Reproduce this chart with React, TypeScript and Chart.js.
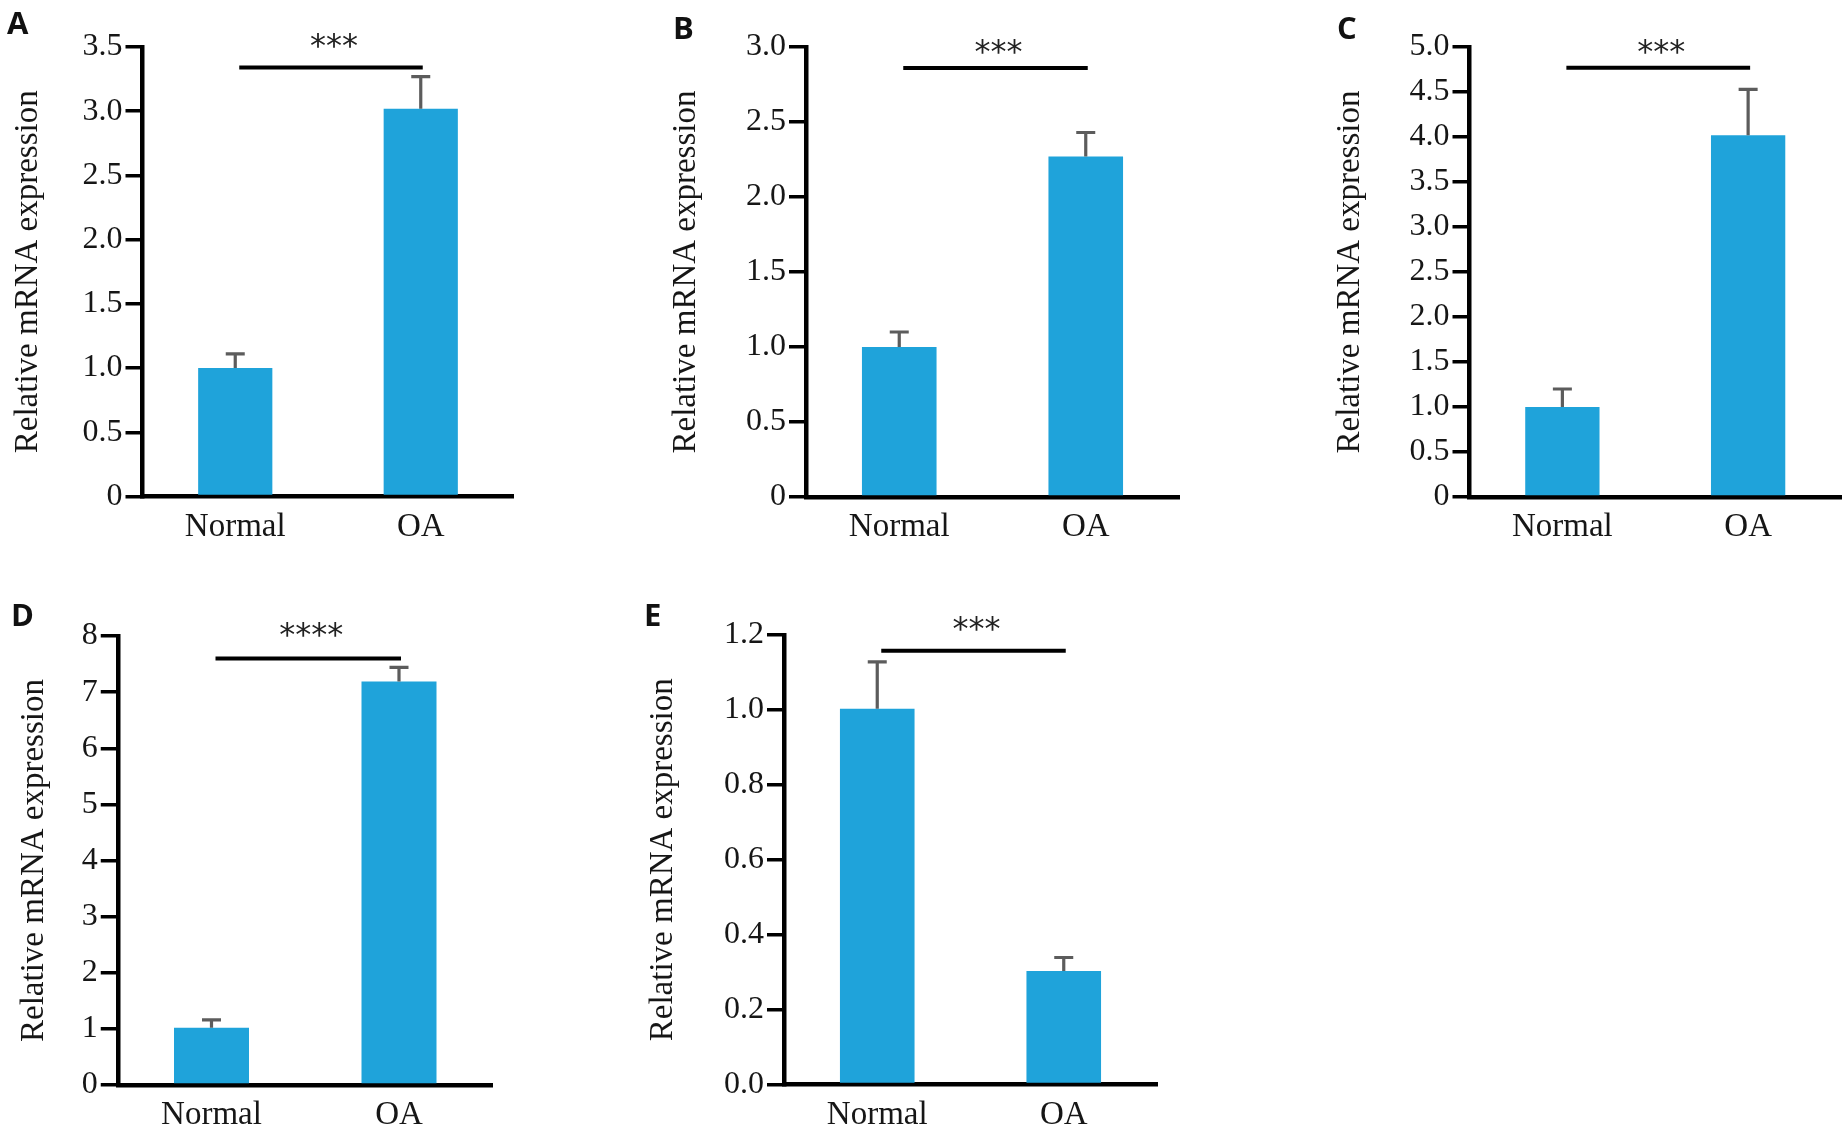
import React, { useEffect, useRef } from "react";
import { Chart, registerables } from "chart.js";

Chart.register(...registerables);

// ---------- data ----------
const categories = ["Normal", "OA"];

const meansA = [1.0, 3.02];
const errA = [0.11, 0.25];
const ticksA = ["0", "0.5", "1.0", "1.5", "2.0", "2.5", "3.0", "3.5"];

const meansB = [1.0, 2.27];
const errB = [0.1, 0.16];
const ticksB = ["0", "0.5", "1.0", "1.5", "2.0", "2.5", "3.0"];

const meansC = [1.0, 4.02];
const errC = [0.2, 0.51];
const ticksC = ["0", "0.5", "1.0", "1.5", "2.0", "2.5", "3.0", "3.5", "4.0", "4.5", "5.0"];

const meansD = [1.02, 7.19];
const errD = [0.14, 0.25];
const ticksD = ["0", "1", "2", "3", "4", "5", "6", "7", "8"];

const meansE = [1.003, 0.303];
const errE = [0.125, 0.036];
const ticksE = ["0.0", "0.2", "0.4", "0.6", "0.8", "1.0", "1.2"];

const sigLevels = [3.34, 2.86, 4.77, 7.6, 1.158];
const sigTexts = ["***", "***", "***", "****", "***"];
const panelLetters = ["A", "B", "C", "D", "E"];

const yTitle = "Relative mRNA expression";

// ---------- layout / style ----------
const BAR = "#1FA3DA";
const TEXT = "#161616";
const SERIF = '"Liberation Serif", "Times New Roman", serif';

type Geom = {
  canvasLeft: number;
  canvasTop: number;
  canvasW: number;
  canvasH: number;
  axisX: number;
  right: number;
  top: number;
  zero: number;
  titleX: number;
  letterX: number;
  letterY: number;
  starLift: number;
};

const geoms: Geom[] = [
  { canvasLeft: 0, canvasTop: 0, canvasW: 525, canvasH: 560, axisX: 142.5, right: 513.5, top: 47, zero: 496.5, titleX: 28, letterX: 7, letterY: 2, starLift: 20 },
  { canvasLeft: 640, canvasTop: 0, canvasW: 550, canvasH: 560, axisX: 806, right: 1179, top: 47, zero: 497, titleX: 686, letterX: 673, letterY: 7, starLift: 14 },
  { canvasLeft: 1300, canvasTop: 0, canvasW: 543, canvasH: 560, axisX: 1469.5, right: 1841, top: 47, zero: 497, titleX: 1350, letterX: 1337, letterY: 7, starLift: 14 },
  { canvasLeft: 0, canvasTop: 580, canvasW: 505, canvasH: 549, axisX: 117.75, right: 492.75, top: 636, zero: 1085, titleX: 34, letterX: 11, letterY: 594, starLift: 22 },
  { canvasLeft: 620, canvasTop: 580, canvasW: 545, canvasH: 549, axisX: 784, right: 1157, top: 635, zero: 1084.5, titleX: 663, letterX: 644, letterY: 594, starLift: 20 },
];

const panelData = [
  { means: meansA, errs: errA, ticks: ticksA },
  { means: meansB, errs: errB, ticks: ticksB },
  { means: meansC, errs: errC, ticks: ticksC },
  { means: meansD, errs: errD, ticks: ticksD },
  { means: meansE, errs: errE, ticks: ticksE },
];

function Panel({ idx }: { idx: number }) {
  const ref = useRef<HTMLCanvasElement | null>(null);
  const g = geoms[idx];
  const d = panelData[idx];

  useEffect(() => {
    const canvas = ref.current;
    if (!canvas) return;
    const tickVals = d.ticks.map((t) => parseFloat(t));
    const max = tickVals[tickVals.length - 1];
    const step = tickVals[1] - tickVals[0];
    const titleFontSize = 33;
    const titlePad = g.titleX - g.canvasLeft - titleFontSize / 2;

    const overlay = {
      id: "errSig" + idx,
      afterDatasetsDraw(chart: any) {
        const ctx = chart.ctx;
        const meta = chart.getDatasetMeta(0);
        const y = chart.scales.y;
        ctx.save();
        ctx.strokeStyle = "#5c5c5c";
        ctx.lineWidth = 3.2;
        meta.data.forEach((bar: any, i: number) => {
          const x = bar.x;
          const yTop = y.getPixelForValue(d.means[i]);
          const yErr = y.getPixelForValue(d.means[i] + d.errs[i]);
          ctx.beginPath();
          ctx.moveTo(x, yTop);
          ctx.lineTo(x, yErr);
          ctx.moveTo(x - 9.5, yErr);
          ctx.lineTo(x + 9.5, yErr);
          ctx.stroke();
        });
        const x0 = meta.data[0].x + 4;
        const x1 = meta.data[1].x + 2;
        const ly = y.getPixelForValue(sigLevels[idx]);
        ctx.strokeStyle = "#000";
        ctx.lineWidth = 4;
        ctx.beginPath();
        ctx.moveTo(x0, ly);
        ctx.lineTo(x1, ly);
        ctx.stroke();
        ctx.fillStyle = "#222";
        ctx.font = '32px "DejaVu Sans"';
        ctx.textAlign = "center";
        ctx.textBaseline = "middle";
        ctx.fillText(sigTexts[idx], (x0 + x1) / 2 + 3, ly - g.starLift);
        ctx.restore();
      },
    };

    const chart = new Chart(canvas, {
      type: "bar",
      data: {
        labels: categories,
        datasets: [
          {
            data: d.means,
            backgroundColor: BAR,
            borderWidth: 0,
            barPercentage: 0.4,
            categoryPercentage: 1,
          },
        ],
      },
      options: {
        animation: false,
        responsive: false,
        maintainAspectRatio: false,
        events: [],
        layout: {
          padding: {
            top: g.top - g.canvasTop,
            right: g.canvasLeft + g.canvasW - g.right,
            left: 0,
            bottom: 0,
          },
        },
        plugins: {
          legend: { display: false },
          tooltip: { enabled: false },
          title: { display: false },
        },
        scales: {
          x: {
            type: "category",
            offset: true,
            z: 1,
            grid: { display: false, drawTicks: false },
            border: { display: true, color: "#000", width: 4.5 },
            ticks: {
              font: { family: SERIF, size: 33 },
              color: TEXT,
              padding: 11,
              maxRotation: 0,
            },
            afterFit: (s: any) => {
              s.height = g.canvasTop + g.canvasH - g.zero;
            },
          },
          y: {
            type: "linear",
            min: 0,
            max,
            z: 1,
            ticks: {
              stepSize: step,
              autoSkip: false,
              padding: 3,
              font: { family: SERIF, size: 32 },
              color: TEXT,
              callback: (v: any) => {
                const k = tickVals.findIndex((t) => Math.abs(t - Number(v)) < 1e-6);
                return k >= 0 ? d.ticks[k] : "";
              },
            },
            grid: {
              display: true,
              drawOnChartArea: false,
              drawTicks: true,
              tickLength: 17,
              lineWidth: 3.5,
              color: "#000",
            },
            border: { display: true, color: "#000", width: 4.5 },
            title: {
              display: true,
              text: yTitle,
              color: TEXT,
              font: { family: SERIF, size: titleFontSize, lineHeight: 1 },
              padding: { top: titlePad, bottom: 0 },
            },
            afterFit: (s: any) => {
              s.width = g.axisX - g.canvasLeft;
            },
          },
        },
      } as any,
      plugins: [overlay],
    });
    return () => chart.destroy();
  }, [idx]);

  return (
    <canvas
      ref={ref}
      width={g.canvasW}
      height={g.canvasH}
      style={{
        position: "absolute",
        left: g.canvasLeft,
        top: g.canvasTop,
        width: g.canvasW,
        height: g.canvasH,
      }}
    />
  );
}

export default function App() {
  return (
    <div
      style={{
        position: "absolute",
        left: 0,
        top: 0,
        width: 1843,
        height: 1129,
        background: "#fff",
        overflow: "hidden",
      }}
    >
      {geoms.map((g, i) => (
        <Panel key={i} idx={i} />
      ))}
      {geoms.map((g, i) => (
        <div
          key={"l" + i}
          style={{
            position: "absolute",
            left: g.letterX,
            top: g.letterY,
            font: 'bold 31px "Open Sans", "DejaVu Sans", sans-serif',
            color: "#111",
            lineHeight: "40px",
          }}
        >
          {panelLetters[i]}
        </div>
      ))}
    </div>
  );
}
